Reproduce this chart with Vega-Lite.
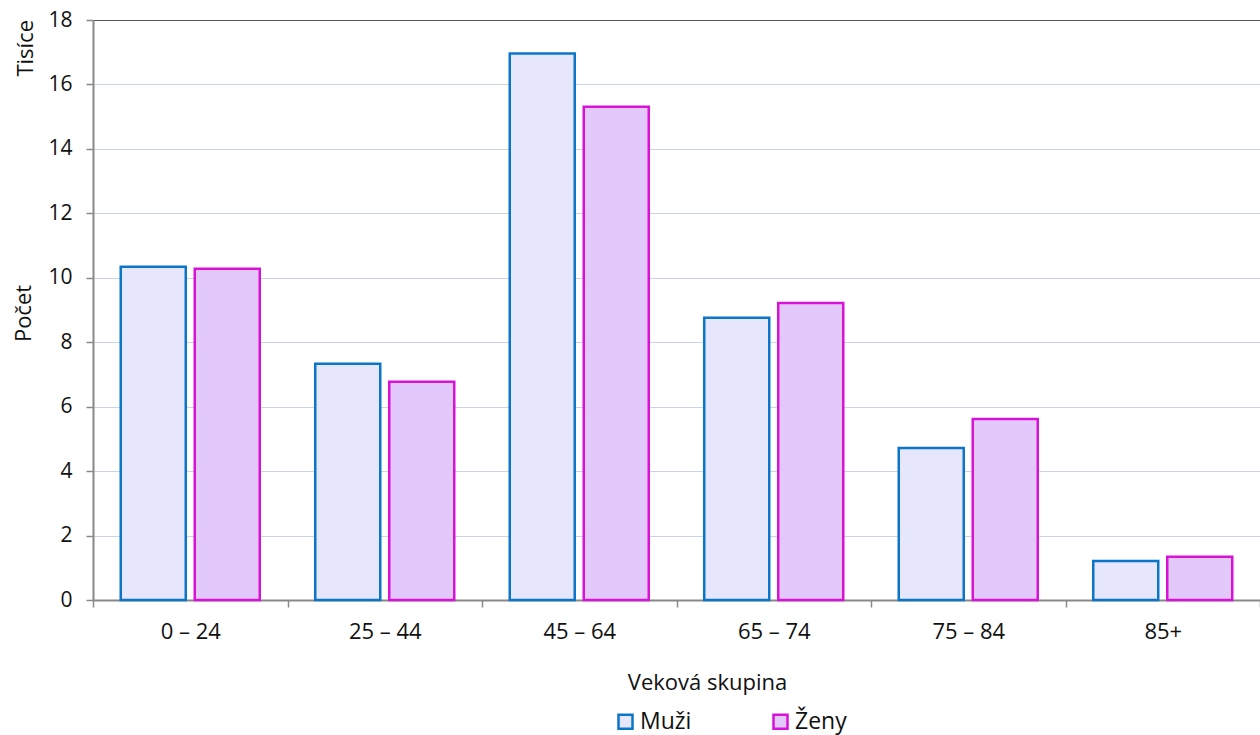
{
  "$schema": "https://vega.github.io/schema/vega-lite/v6.json",
  "autosize": {"type": "none"},
  "width": 1167,
  "height": 580,
  "padding": {"left": 93, "top": 20, "right": 0, "bottom": 135},
  "background": "white",
  "config": {
    "font": "Open Sans",
    "view": {"stroke": null}
  },
  "title": {
    "text": "Tisíce",
    "orient": "left",
    "anchor": "end",
    "frame": "group",
    "offset": -25,
    "fontSize": 22,
    "fontWeight": "normal",
    "color": "#111"
  },
  "data": {
    "values": [
      {"skupina": "0 – 24", "pohlavie": "Muži", "pocet": 10.34},
      {"skupina": "0 – 24", "pohlavie": "Ženy", "pocet": 10.28},
      {"skupina": "25 – 44", "pohlavie": "Muži", "pocet": 7.33},
      {"skupina": "25 – 44", "pohlavie": "Ženy", "pocet": 6.77},
      {"skupina": "45 – 64", "pohlavie": "Muži", "pocet": 16.96},
      {"skupina": "45 – 64", "pohlavie": "Ženy", "pocet": 15.31},
      {"skupina": "65 – 74", "pohlavie": "Muži", "pocet": 8.76},
      {"skupina": "65 – 74", "pohlavie": "Ženy", "pocet": 9.22},
      {"skupina": "75 – 84", "pohlavie": "Muži", "pocet": 4.72},
      {"skupina": "75 – 84", "pohlavie": "Ženy", "pocet": 5.62},
      {"skupina": "85+", "pohlavie": "Muži", "pocet": 1.21},
      {"skupina": "85+", "pohlavie": "Ženy", "pocet": 1.34}
    ]
  },
  "mark": {"type": "bar", "strokeWidth": 2.5},
  "encoding": {
    "x": {
      "field": "skupina",
      "type": "nominal",
      "sort": null,
      "scale": {"paddingInner": 0, "paddingOuter": 0},
      "axis": {
        "title": "Veková skupina",
        "labelAngle": 0,
        "labelFontSize": 22,
        "labelColor": "#111",
        "labelPadding": 14,
        "tickBand": "extent",
        "tickSize": 7,
        "tickColor": "#888",
        "tickWidth": 1.5,
        "domainColor": "#888",
        "domainWidth": 2,
        "titleFontSize": 22,
        "titleFontWeight": "normal",
        "titleColor": "#111",
        "titleX": 614,
        "titlePadding": 30
      }
    },
    "xOffset": {
      "field": "pohlavie",
      "type": "nominal",
      "scale": {"paddingInner": 0.1216, "paddingOuter": 0.375}
    },
    "y": {
      "field": "pocet",
      "type": "quantitative",
      "scale": {"domain": [0, 18], "nice": false},
      "axis": {
        "title": "Počet",
        "values": [0, 2, 4, 6, 8, 10, 12, 14, 16, 18],
        "labelFontSize": 21,
        "labelColor": "#111",
        "labelPadding": 14,
        "tickSize": 7,
        "tickColor": "#888",
        "tickWidth": 1.5,
        "domainColor": "#888",
        "domainWidth": 2,
        "gridColor": {"condition": {"test": "datum.value === 18", "value": "#555"}, "value": "#c9d5e6"},
        "gridWidth": 1.2,
        "titleFontSize": 22,
        "titleFontWeight": "normal",
        "titleColor": "#111",
        "titlePadding": 12,
        "titleY": 293
      }
    },
    "fill": {
      "field": "pohlavie",
      "type": "nominal",
      "scale": {"domain": ["Muži", "Ženy"], "range": ["#e6e6fc", "#e3c8fc"]},
      "legend": {
        "title": null,
        "orient": "none",
        "legendX": 521,
        "legendY": 690,
        "direction": "horizontal",
        "symbolType": "square",
        "symbolSize": 196,
        "symbolStrokeWidth": 2.5,
        "labelFontSize": 23,
        "labelColor": "#111",
        "labelOffset": 3,
        "columnPadding": 76
      }
    },
    "stroke": {
      "field": "pohlavie",
      "type": "nominal",
      "scale": {"domain": ["Muži", "Ženy"], "range": ["#0b76c9", "#d812d8"]},
      "legend": null
    }
  }
}
